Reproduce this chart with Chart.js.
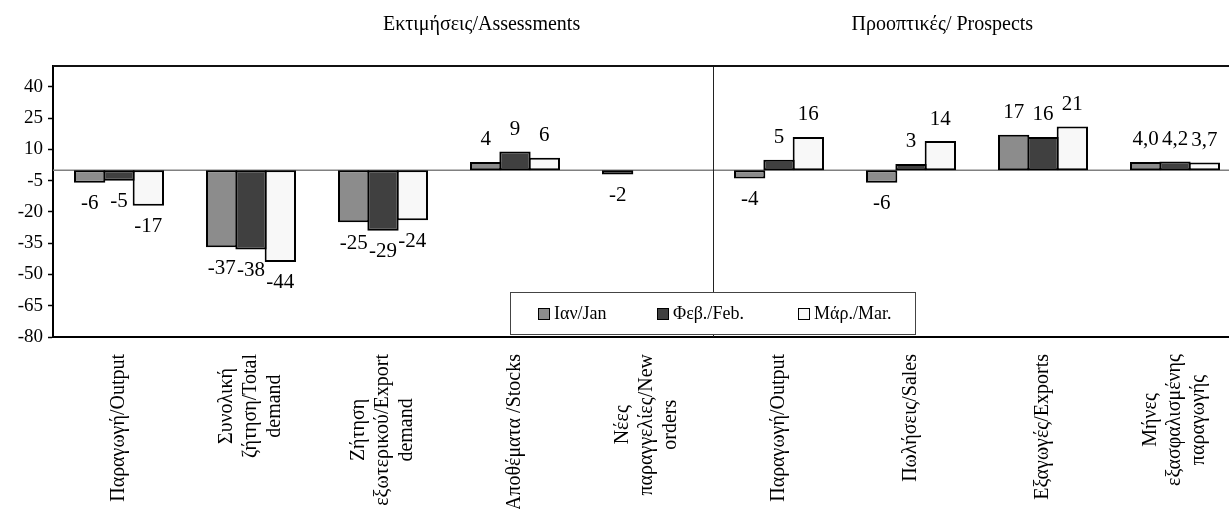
<!DOCTYPE html>
<html><head><meta charset="utf-8">
<script src="https://cdn.jsdelivr.net/npm/chart.js@4"></script>
<style>
html,body{margin:0;padding:0;background:#fff;overflow:hidden;width:1229px;height:509px}
#wrap{position:relative;width:1241px;height:509px}
</style></head><body>
<div id="wrap"><canvas id="c"></canvas></div>
<script>
const categories = [
  ['Παραγωγή/Output'],
  ['Συνολική', 'ζήτηση/Total', 'demand'],
  ['Ζήτηση', 'εξωτερικού/Export', 'demand'],
  ['Αποθέματα /Stocks'],
  ['Νέες', 'παραγγελίες/New', 'orders'],
  ['Παραγωγή/Output'],
  ['Πωλήσεις/Sales'],
  ['Εξαγωγές/Exports'],
  ['Μήνες', 'εξασφαλισμένης', 'παραγωγής']
];
const seriesNames = ['Ιαν/Jan', 'Φεβ./Feb.', 'Μάρ./Mar.'];
const janValues = [-6, -37, -25, 4, -2, -4, -6, 17, 4.0];
const febValues = [-5, -38, -29, 9, null, 5, 3, 16, 4.2];
const marValues = [-17, -44, -24, 6, null, 16, 14, 21, 3.7];
const labelDecimals = [0, 0, 0, 0, 0, 0, 0, 0, 1];
const yTicks = [-80, -65, -50, -35, -20, -5, 10, 25, 40];
const groupTitles = ['Εκτιμήσεις/Assessments', 'Προοπτικές/ Prospects'];
const groupTitleAt = [2.0, 5.55];
const dividerAt = 4.5;

const FONT = "'Liberation Serif', 'DejaVu Serif', serif";
const colors = ['#8c8c8c', '#404040', '#f8f8f8'];

function fmt(v, d) { return v.toFixed(d).replace('.', ','); }

const decor = {
  id: 'decor',
  beforeDatasetsDraw(chart) {
    const {ctx, chartArea: a, scales: {x, y}} = chart;
    ctx.save();
    const y0 = y.getPixelForValue(0);
    ctx.strokeStyle = '#808080'; ctx.lineWidth = 1.5;
    ctx.beginPath(); ctx.moveTo(a.left, y0); ctx.lineTo(a.right, y0); ctx.stroke();
    const xd = Math.round(x.getPixelForValue(dividerAt)) + 0.5;
    ctx.strokeStyle = '#222'; ctx.lineWidth = 1;
    ctx.beginPath(); ctx.moveTo(xd, a.top); ctx.lineTo(xd, a.bottom); ctx.stroke();
    ctx.strokeStyle = '#111'; ctx.lineWidth = 2;
    ctx.beginPath(); ctx.moveTo(a.left, a.top); ctx.lineTo(a.right, a.top); ctx.stroke();
    ctx.restore();
  },
  afterDatasetsDraw(chart) {
    const {ctx, chartArea: a} = chart;
    ctx.save();
    ctx.fillStyle = '#000';
    ctx.font = '21px ' + FONT;
    ctx.textAlign = 'center'; ctx.textBaseline = 'middle';
    chart.data.datasets.forEach((ds, di) => {
      const meta = chart.getDatasetMeta(di);
      meta.data.forEach((el, i) => {
        const v = ds.data[i];
        if (v === null || v === undefined) return;
        const yy = el.y + (v < 0 ? 21 : -22);
        ctx.fillText(fmt(v, labelDecimals[i]), el.x, yy);
      });
    });
    const lx = a.left + 457, ly = a.bottom - 45, lw = 405, lh = 42;
    ctx.fillStyle = '#fff';
    ctx.fillRect(lx, ly, lw, lh);
    ctx.strokeStyle = '#444'; ctx.lineWidth = 1;
    ctx.strokeRect(lx + 0.5, ly + 0.5, lw, lh);
    const itemX = [28, 147, 288];
    ctx.font = '18px ' + FONT;
    ctx.textAlign = 'left'; ctx.textBaseline = 'middle';
    chart.data.datasets.forEach((ds, di) => {
      const sx = lx + itemX[di], sy = ly + 16;
      ctx.fillStyle = ds.backgroundColor;
      ctx.fillRect(sx, sy, 11, 11);
      ctx.strokeStyle = '#000'; ctx.lineWidth = 1;
      ctx.strokeRect(sx + 0.5, sy + 0.5, 11, 11);
      ctx.fillStyle = '#000';
      ctx.fillText(ds.label, sx + 16, sy + 6);
    });
    ctx.restore();
  },
  afterDraw(chart) {
    const {ctx, chartArea: a, scales: {x}} = chart;
    ctx.save();
    ctx.fillStyle = '#000';
    ctx.font = '20px ' + FONT;
    ctx.textAlign = 'left'; ctx.textBaseline = 'alphabetic';
    groupTitles.forEach((t, i) => {
      ctx.fillText(t, x.getPixelForValue(groupTitleAt[i]), 30);
    });
    ctx.font = '20px ' + FONT;
    ctx.textAlign = 'center'; ctx.textBaseline = 'middle';
    const gap = 24;
    categories.forEach((lines, i) => {
      const px = x.getPixelForTick(i);
      const maxW = Math.max(...lines.map(l => ctx.measureText(l).width));
      const cy = a.bottom + 17 + maxW / 2;
      lines.forEach((l, j) => {
        const cx = px + (j - (lines.length - 1) / 2) * gap;
        ctx.save();
        ctx.translate(cx, cy);
        ctx.rotate(-Math.PI / 2);
        ctx.fillText(l, 0, 0);
        ctx.restore();
      });
    });
    ctx.restore();
  }
};

const seriesValues = [janValues, febValues, marValues];
new Chart(document.getElementById('c'), {
  type: 'bar',
  data: {
    labels: categories,
    datasets: seriesNames.map((n, i) => ({
      label: n,
      data: seriesValues[i],
      backgroundColor: colors[i],
      borderColor: '#000',
      borderWidth: 2,
      borderSkipped: false,
      categoryPercentage: 3 / 4.5,
      barPercentage: 1.068
    }))
  },
  options: {
    responsive: true,
    maintainAspectRatio: false,
    devicePixelRatio: 1,
    animation: false,
    events: [],
    layout: {padding: {top: 66, left: 0, right: 0, bottom: 0}},
    plugins: {legend: {display: false}, tooltip: {enabled: false}, title: {display: false}},
    scales: {
      x: {
        afterFit: s => { s.height = 172; },
        grid: {display: false, drawTicks: false},
        border: {display: true, color: '#000', width: 2},
        ticks: {display: false}
      },
      y: {
        min: -80, max: 50,
        afterBuildTicks: s => { s.ticks = yTicks.map(v => ({value: v})); },
        afterFit: s => { s.width = 53; },
        grid: {drawOnChartArea: false, drawTicks: true, tickLength: 5, tickColor: '#000', tickWidth: 1.5},
        border: {display: true, color: '#000', width: 2},
        ticks: {color: '#000', font: {family: FONT, size: 19}, padding: 5}
      }
    }
  },
  plugins: [decor]
});
</script>
</body></html>
